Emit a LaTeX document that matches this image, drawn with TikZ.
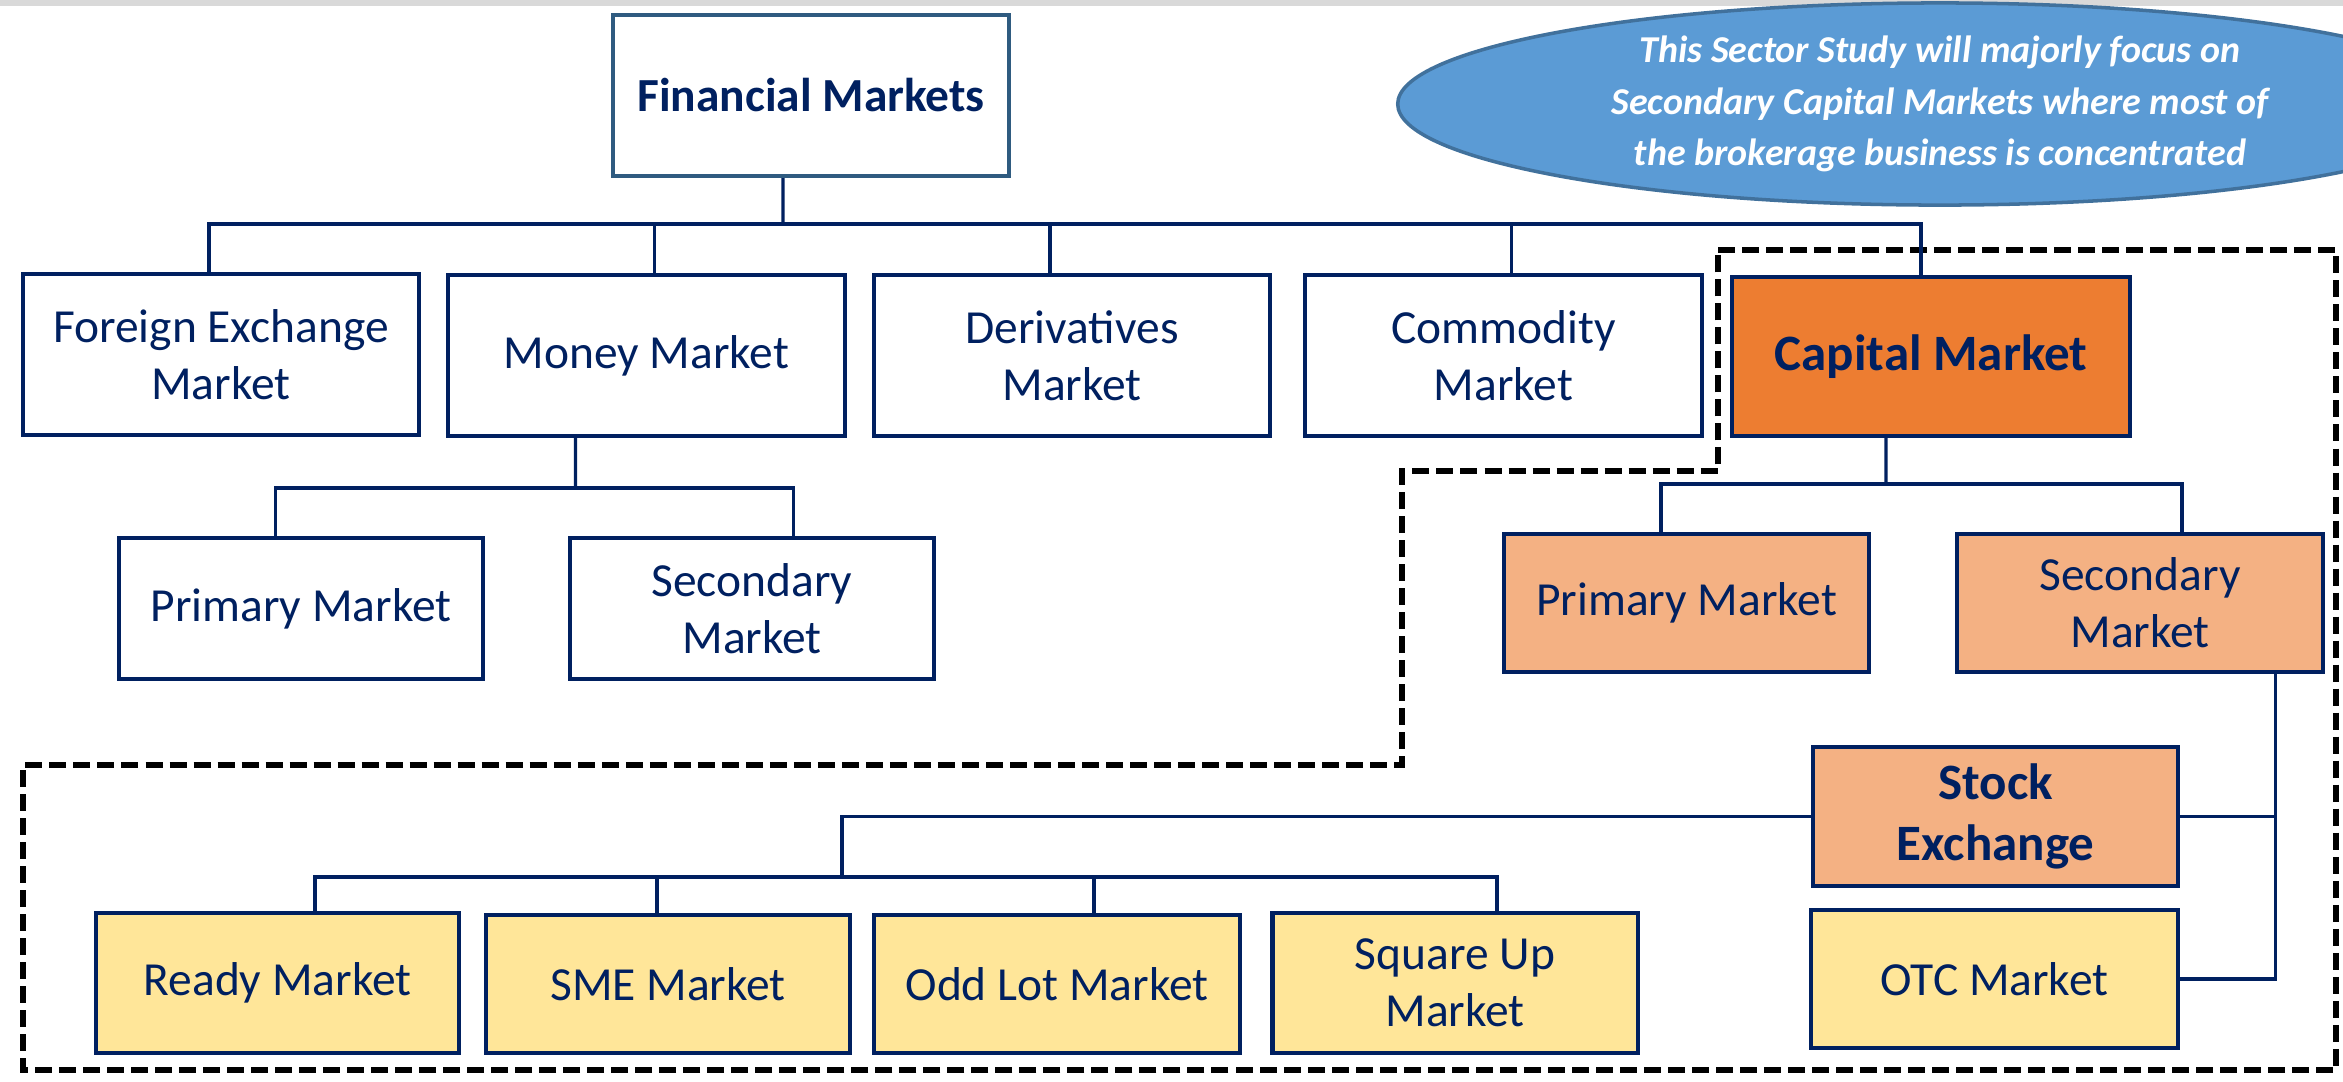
\documentclass[tikz,border=0pt]{standalone}
\usepackage{fontspec}
\setmainfont{Carlito}
\usetikzlibrary{shapes.geometric}
\definecolor{navy}{HTML}{002060}
\definecolor{fmborder}{HTML}{2F5B80}
\definecolor{capfill}{HTML}{ED7D31}
\definecolor{peach}{HTML}{F4B183}
\definecolor{lightyellow}{HTML}{FFE699}
\definecolor{noteblue}{HTML}{5B9BD5}
\definecolor{noteborder}{HTML}{41719C}
\definecolor{topgray}{HTML}{D9D9D9}
\begin{document}
\begin{tikzpicture}[x=0.01cm,y=-0.01cm,
  box/.style={draw=navy, line width=1.2pt, text=navy, align=center, inner sep=0pt,
    font=\fontsize{13.5}{16.2}\selectfont},
  bigbox/.style={box, font=\fontsize{14.5}{17.5}\selectfont\bfseries},
  conn/.style={draw=navy, line width=0.9pt},
  focus/.style={draw=black, line width=1.7pt, dash pattern=on 0.17cm off 0.07cm},
  note/.style={ellipse, draw=noteborder, line width=1pt, fill=noteblue, text=white, align=center,
    inner sep=0pt, font=\fontsize{10.8}{14.6}\selectfont\bfseries\itshape}]
\useasboundingbox (0,0) rectangle (2343,1081);
\clip (0,0) rectangle (2343,1081);
\fill[topgray] (0,0) rectangle (2343,6);

% note ellipse
\node[note, minimum width=10.84cm, minimum height=2.02cm] (note) at (1940,104)
  {This Sector Study will majorly focus on\\Secondary Capital Markets where most of\\the brokerage business is concentrated};

% focus region
\draw[focus] (1718,250) -- (2336,250) -- (2336,1070) -- (23,1070) -- (23,765)
  -- (1402,765) -- (1402,471) -- (1718,471) -- cycle;

% level 0
\node[box, draw=fmborder, font=\fontsize{13.5}{16.2}\selectfont\bfseries,
  minimum width=3.96cm, minimum height=1.61cm] (fm) at (811,95.5) {Financial Markets};

% level 1
\node[box, minimum width=3.96cm, minimum height=1.61cm] (fx) at (221,354.5) {Foreign Exchange\\Market};
\node[box, minimum width=3.97cm, minimum height=1.61cm] (mm) at (646.5,355.5) {Money Market};
\node[box, minimum width=3.96cm, minimum height=1.61cm] (dm) at (1072,355.5) {Derivatives\\Market};
\node[box, minimum width=3.97cm, minimum height=1.61cm] (cm) at (1503.5,355.5) {Commodity\\Market};
\node[bigbox, fill=capfill, minimum width=3.98cm, minimum height=1.59cm] (cap) at (1931,356.5) {Capital Market};

% money sub
\node[box, minimum width=3.64cm, minimum height=1.41cm] (mp) at (301,608.5) {Primary Market};
\node[box, minimum width=3.64cm, minimum height=1.41cm] (ms) at (752,608.5) {Secondary\\Market};

% capital sub
\node[box, fill=peach, minimum width=3.65cm, minimum height=1.38cm] (cp) at (1686.5,603) {Primary Market};
\node[box, fill=peach, minimum width=3.66cm, minimum height=1.38cm] (cs) at (2140,603) {Secondary\\Market};

\node[bigbox, fill=peach, minimum width=3.65cm, minimum height=1.39cm] (se) at (1995.5,816.5) {Stock\\Exchange};
\node[box, fill=lightyellow, minimum width=3.67cm, minimum height=1.38cm] (otc) at (1994.5,979) {OTC Market};

% stock exchange sub
\node[box, fill=lightyellow, minimum width=3.63cm, minimum height=1.40cm] (rm) at (277.5,983) {Ready Market};
\node[box, fill=lightyellow, minimum width=3.64cm, minimum height=1.38cm] (sme) at (668,984) {SME Market};
\node[box, fill=lightyellow, minimum width=3.66cm, minimum height=1.38cm] (ol) at (1057,984) {Odd Lot Market};
\node[box, fill=lightyellow, minimum width=3.65cm, minimum height=1.40cm] (sq) at (1455,983) {Square Up\\Market};

% connectors level 0 -> 1
\coordinate (b1) at (783,224);
\draw[conn] ([xshift=-0.28cm]fm.south) -- (b1);
\draw[conn] ([xshift=-0.12cm]fx.north) |- (b1) -| ([xshift=-0.10cm]cap.north);
\draw[conn] ([xshift=0.08cm]mm.north) -- ++(0,-51);
\draw[conn] ([xshift=-0.22cm]dm.north) -- ++(0,-51);
\draw[conn] ([xshift=0.08cm]cm.north) -- ++(0,-51);

% money market
\coordinate (b2) at (575.5,488);
\draw[conn] ([xshift=-0.71cm]mm.south) -- (b2);
\draw[conn] ([xshift=-0.255cm]mp.north) |- (b2) -| ([xshift=0.415cm]ms.north);

% capital market
\coordinate (b3) at (1886,484);
\draw[conn] ([xshift=-0.45cm]cap.south) -- (b3);
\draw[conn] ([xshift=-0.255cm]cp.north) |- (b3) -| ([xshift=0.42cm]cs.north);

% secondary -> stock exchange / OTC
\draw[conn] ([xshift=1.35cm]cs.south) |- (otc.east);
\draw[conn] (se.east) -- ++(97,0);

% stock exchange -> markets
\coordinate (b4) at (842,877);
\draw[conn] (se.west) -| (b4);
\draw[conn] ([xshift=0.375cm]rm.north) |- (b4) -| ([xshift=0.42cm]sq.north);
\draw[conn] ([xshift=-0.11cm]sme.north) -- ++(0,-38);
\draw[conn] ([xshift=0.37cm]ol.north) -- ++(0,-38);
\end{tikzpicture}
\end{document}
